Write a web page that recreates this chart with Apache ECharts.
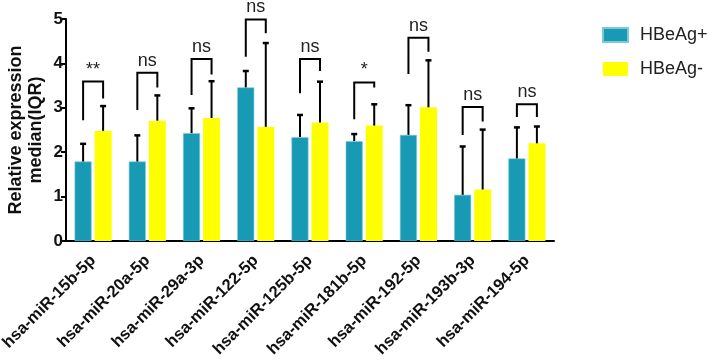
<!DOCTYPE html>
<html>
<head>
<meta charset="utf-8">
<script src="https://cdn.jsdelivr.net/npm/echarts@6/dist/echarts.min.js"></script>
<style>html,body{margin:0;padding:0;background:#fff}#c{width:708px;height:360px}</style>
</head>
<body>
<div id="c"></div>
<script>
var categories = ['hsa-miR-15b-5p','hsa-miR-20a-5p','hsa-miR-29a-3p','hsa-miR-122-5p','hsa-miR-125b-5p','hsa-miR-181b-5p','hsa-miR-192-5p','hsa-miR-193b-3p','hsa-miR-194-5p'];
var posMedian = [1.79, 1.79, 2.43, 3.46, 2.34, 2.25, 2.39, 1.04, 1.86];
var posUpper  = [2.20, 2.39, 3.00, 3.84, 2.85, 2.42, 3.07, 2.14, 2.57];
var negMedian = [2.48, 2.71, 2.77, 2.57, 2.67, 2.60, 3.01, 1.16, 2.20];
var negUpper  = [3.05, 3.29, 3.61, 4.47, 3.60, 3.09, 4.08, 2.52, 2.59];
var bracketTop   = [3.59, 3.79, 4.10, 4.99, 4.10, 3.57, 4.58, 3.02, 3.08];
var bracketLeft  = [2.72, 2.95, 3.29, 4.15, 3.33, 2.74, 3.76, 2.39, 2.79];
var bracketRight = [3.21, 3.46, 3.75, 4.68, 3.83, 3.46, 4.26, 2.69, 2.79];
var sigLabels = ['**','ns','ns','ns','ns','*','ns','ns','ns'];
var yTicks = [0,1,2,3,4,5];

var TEAL = '#1899b4', YEL = '#ffff00';
var OFF = 10;
var FONT = 'Liberation Sans, Arial, sans-serif';

function errItem(sign) {
  return function (params, api) {
    var i = api.value(0);
    var p0 = api.coord([i, api.value(1)]);
    var p1 = api.coord([i, api.value(2)]);
    var x = p0[0] + sign * OFF;
    return { type: 'group', children: [
      { type: 'line', shape: { x1: x, y1: p0[1], x2: x, y2: p1[1] }, style: { stroke: '#000', lineWidth: 2 } },
      { type: 'line', shape: { x1: x - 3, y1: p1[1] + 0.5, x2: x + 3, y2: p1[1] + 0.5 }, style: { stroke: '#000', lineWidth: 2.5 } }
    ]};
  };
}

var chart = echarts.init(document.getElementById('c'));
chart.setOption({
  animation: false,
  backgroundColor: '#fff',
  grid: { left: 66, right: 154, top: 19, bottom: 119, outerBoundsMode: 'none', containLabel: false },
  legend: {
    orient: 'vertical', left: 597, top: 21, itemWidth: 25, itemHeight: 14, itemGap: 16,
    icon: 'rect',
    textStyle: { fontFamily: FONT, fontSize: 18, color: '#222', padding: [0,0,0,7] },
    data: ['HBeAg+', 'HBeAg-']
  },
  xAxis: {
    type: 'category', data: categories,
    axisLine: { lineStyle: { color: '#000', width: 2 } },
    axisTick: { alignWithLabel: true, length: 6, lineStyle: { color: '#000', width: 2 } },
    axisLabel: { rotate: 45, margin: 17, color: '#111', fontWeight: 'bold', fontSize: 16.5, fontFamily: FONT }
  },
  yAxis: {
    type: 'value', min: 0, max: 5, interval: 1,
    name: 'Relative expression\nmedian(IQR)', nameLocation: 'middle', nameRotate: 90, nameGap: 20,
    nameMoveOverlap: false,
    nameTextStyle: { fontWeight: 'bold', fontSize: 18, color: '#111', lineHeight: 20, fontFamily: FONT },
    splitLine: { show: false },
    axisLine: { show: true, lineStyle: { color: '#000', width: 2 } },
    axisTick: { show: true, length: 5, lineStyle: { color: '#000', width: 2 } },
    axisLabel: { color: '#111', fontWeight: 'bold', fontSize: 17, margin: 3, fontFamily: FONT,
      formatter: function (v) { return yTicks.indexOf(v) >= 0 ? String(v) : ''; } }
  },
  series: [
    { name: 'HBeAg+', type: 'bar', data: posMedian, barWidth: 17, barGap: '18%',
      itemStyle: { color: TEAL, borderColor: '#7cc9da', borderWidth: 0.6 } },
    { name: 'HBeAg-', type: 'bar', data: negMedian, barWidth: 17,
      itemStyle: { color: YEL } },
    { type: 'custom', silent: true, z: 5,
      data: posMedian.map(function (m, i) { return [i, m, posUpper[i]]; }),
      renderItem: errItem(-1) },
    { type: 'custom', silent: true, z: 5,
      data: negMedian.map(function (m, i) { return [i, m, negUpper[i]]; }),
      renderItem: errItem(1) },
    { type: 'custom', silent: true, z: 6,
      data: categories.map(function (c, i) { return [i, bracketTop[i], bracketLeft[i], bracketRight[i]]; }),
      renderItem: function (params, api) {
        var i = api.value(0);
        var t = api.coord([i, api.value(1)]);
        var l = api.coord([i, api.value(2)]);
        var r = api.coord([i, api.value(3)]);
        var xl = t[0] - OFF, xr = t[0] + OFF;
        var lab = sigLabels[params.dataIndex];
        return { type: 'group', children: [
          { type: 'polyline', shape: { points: [[xl, l[1]], [xl, t[1]], [xr, t[1]], [xr, r[1]]] },
            style: { stroke: '#000', lineWidth: 2, fill: null } },
          { type: 'text', style: { text: lab, x: t[0], y: t[1] - 3, align: 'center', verticalAlign: 'bottom',
            fontSize: 18, fontFamily: FONT, fill: '#222' } }
        ]};
      }
    }
  ]
});
</script>
</body>
</html>
